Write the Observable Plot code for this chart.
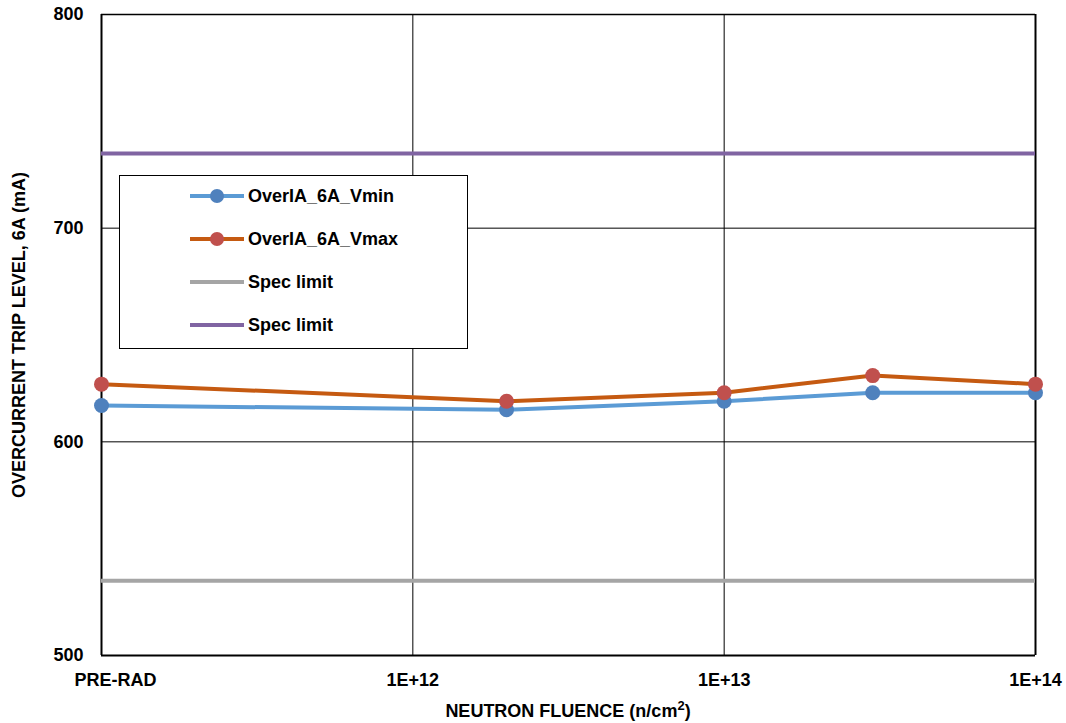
<!DOCTYPE html>
<html><head><meta charset="utf-8">
<script src="https://cdn.jsdelivr.net/npm/d3@7"></script>
<script src="https://cdn.jsdelivr.net/npm/@observablehq/plot@0.6"></script>
<style>
body{margin:0;background:#fff;font-family:"Liberation Sans",Arial,sans-serif;}
#wrap{position:relative;width:1066px;height:723px;}
#legend{position:absolute;left:119px;top:175px;width:349px;height:174px;border:1px solid #000;background:#fff;box-sizing:border-box;}
.li{position:absolute;left:70px;height:20px;display:flex;align-items:center;font-weight:bold;font-size:18px;color:#000;}
.sw{position:relative;width:54px;height:20px;margin-right:4px;}
.sw .ln{position:absolute;left:0;right:0;top:8px;height:4px;}
.sw .dt{position:absolute;left:20px;top:3px;width:14px;height:14px;border-radius:50%;}
</style></head>
<body><div id="wrap"></div>
<script>
const fluence = [1e11, 2e12, 1e13, 3e13, 1e14];
const vmin = [617, 615, 619, 623, 623];
const vmax = [627, 619, 623, 631, 627];
const specLow = 535;
const specHigh = 735;
const xTicks = [1e11, 1e12, 1e13, 1e14];
const xTickLabels = ["PRE-RAD", "1E+12", "1E+13", "1E+14"];
const yTicks = [500, 600, 700, 800];
const seriesNames = ["OverIA_6A_Vmin", "OverIA_6A_Vmax", "Spec limit", "Spec limit"];
const lineColors = ["#5B9BD5", "#C55A11", "#A5A5A5", "#8064A2"];
const dotColors = ["#4F81BD", "#C0504D"];

const rows = (ys) => fluence.map((f, i) => ({x: f, y: ys[i]}));
const fmt = d => xTickLabels[xTicks.indexOf(d)];

const chart = Plot.plot({
  width: 1066, height: 723,
  marginLeft: 101, marginRight: 31, marginTop: 14, marginBottom: 68,
  style: {fontFamily: "'Liberation Sans', Arial, sans-serif", fontWeight: "bold", fontSize: "18px", color: "#000", background: "#fff"},
  x: {type: "log", domain: [1e11, 1e14]},
  y: {domain: [500, 800]},
  marks: [
    Plot.ruleY([600, 700], {stroke: "#000", strokeWidth: 1}),
    Plot.ruleX([1e12, 1e13], {stroke: "#000", strokeWidth: 1}),
    Plot.ruleY([800], {stroke: "#000", strokeWidth: 1.5}),
    Plot.ruleY([500], {stroke: "#000", strokeWidth: 2}),
    Plot.ruleX([1e11, 1e14], {stroke: "#000", strokeWidth: 2}),
    Plot.ruleY([specLow], {stroke: lineColors[2], strokeWidth: 4}),
    Plot.ruleY([specHigh], {stroke: lineColors[3], strokeWidth: 4}),
    Plot.line(rows(vmin), {x: "x", y: "y", stroke: lineColors[0], strokeWidth: 4}),
    Plot.line(rows(vmax), {x: "x", y: "y", stroke: lineColors[1], strokeWidth: 4}),
    Plot.dot(rows(vmin), {x: "x", y: "y", r: 7.5, fill: dotColors[0], stroke: "none"}),
    Plot.dot(rows(vmax), {x: "x", y: "y", r: 7.5, fill: dotColors[1], stroke: "none"}),
    Plot.axisY({ticks: yTicks, tickSize: 0, tickPadding: 18, label: null, tickFormat: d => String(d), fontSize: 18, fontWeight: "bold"}),
    Plot.axisX({ticks: xTicks.slice(1), tickSize: 0, tickPadding: 18, label: null, tickFormat: fmt, fontSize: 18, fontWeight: "bold"}),
    Plot.axisX({ticks: xTicks.slice(0, 1), tickSize: 0, tickPadding: 18, dx: 14, label: null, tickFormat: fmt, fontSize: 18, fontWeight: "bold"})
  ]
});
const wrap = document.getElementById("wrap");
wrap.appendChild(chart);

// axis titles
const svg = d3.select(chart);
svg.append("text").attr("x", 568).attr("y", 717).attr("text-anchor", "middle")
  .attr("font-size", 18).attr("font-weight", "bold")
  .html('NEUTRON FLUENCE (n/cm<tspan dy="-7" font-size="13">2</tspan><tspan dy="7">)</tspan>');
svg.append("text").attr("transform", "translate(25,335) rotate(-90)").attr("text-anchor", "middle")
  .attr("font-size", 18).attr("font-weight", "bold").text("OVERCURRENT TRIP LEVEL, 6A (mA)");

// legend
const lg = document.createElement("div");
lg.id = "legend";
const tops = [10, 53, 96, 139];
seriesNames.forEach((n, i) => {
  const it = document.createElement("div");
  it.className = "li";
  it.style.top = tops[i] + "px";
  const sw = document.createElement("div");
  sw.className = "sw";
  const ln = document.createElement("div");
  ln.className = "ln"; ln.style.background = lineColors[i];
  sw.appendChild(ln);
  if (i < 2) {
    const dt = document.createElement("div");
    dt.className = "dt"; dt.style.background = dotColors[i];
    sw.appendChild(dt);
  }
  it.appendChild(sw);
  const t = document.createElement("span"); t.textContent = n;
  it.appendChild(t);
  lg.appendChild(it);
});
wrap.appendChild(lg);
</script></body></html>
